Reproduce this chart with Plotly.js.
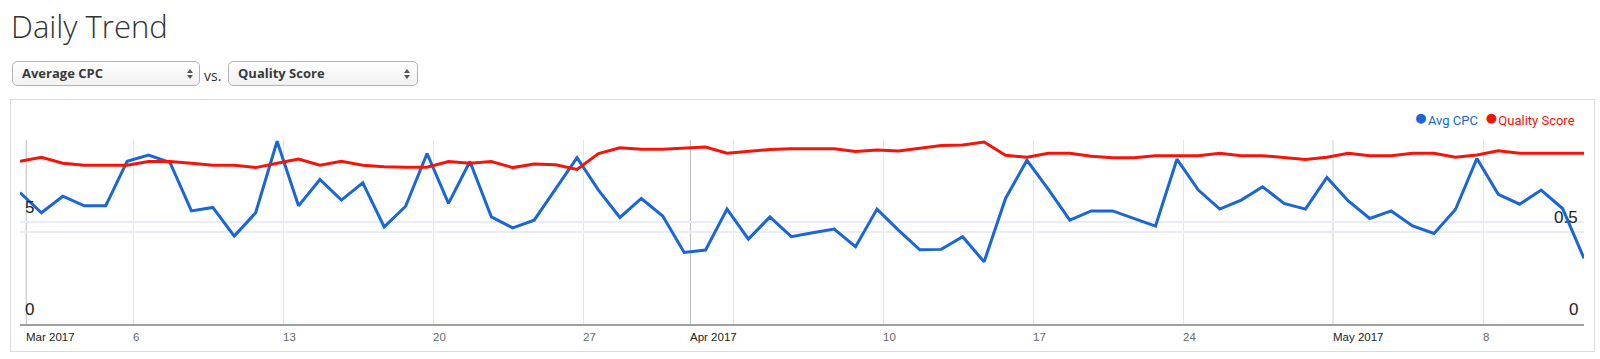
<!DOCTYPE html>
<html>
<head>
<meta charset="utf-8">
<script src="https://cdn.plot.ly/plotly-3.0.1.min.js"></script>
<style>
  html, body { margin:0; padding:0; background:#fff; }
  body { width:1600px; height:359px; overflow:hidden; position:relative; }
  #box { position:absolute; left:10px; top:99px; width:1583px; height:251px; border:1px solid #dcdcdc; box-sizing:content-box; }
  #chart { position:absolute; left:0; top:0; width:1600px; height:359px; }
  .sel { position:absolute; top:61px; height:23px; border:1px solid #b4b4b4; border-radius:5px;
         background:linear-gradient(#ffffff,#f1f1f1); font-family:"Open Sans",Arial,sans-serif; font-weight:700;
         font-size:13px; color:#3a3a3a; line-height:23px; box-sizing:content-box; z-index:2; }
  .sel .t { position:absolute; left:9px; top:0; }
  .sel .up, .sel .dn { position:absolute; width:0; height:0; border-left:3px solid transparent; border-right:3px solid transparent; }
  .sel .up { border-bottom:4px solid #555; top:7px; }
  .sel .dn { border-top:4px solid #555; top:13px; }
  #vs { position:absolute; left:204px; top:66px; font-family:"Open Sans",Arial,sans-serif; font-size:14px; color:#333; z-index:2; }
</style>
</head>
<body>
<div id="box"></div>
<div id="chart"></div>
<div class="sel" style="left:12px;width:186px"><span class="t">Average CPC</span><span class="up" style="left:174px"></span><span class="dn" style="left:174px"></span></div>
<div id="vs">vs.</div>
<div class="sel" style="left:228px;width:188px"><span class="t">Quality Score</span><span class="up" style="left:175px"></span><span class="dn" style="left:175px"></span></div>
<script>
// ---- data ----
const dates = [
 '2017-03-01','2017-03-02','2017-03-03','2017-03-04','2017-03-05','2017-03-06','2017-03-07','2017-03-08','2017-03-09','2017-03-10',
 '2017-03-11','2017-03-12','2017-03-13','2017-03-14','2017-03-15','2017-03-16','2017-03-17','2017-03-18','2017-03-19','2017-03-20',
 '2017-03-21','2017-03-22','2017-03-23','2017-03-24','2017-03-25','2017-03-26','2017-03-27','2017-03-28','2017-03-29','2017-03-30',
 '2017-03-31','2017-04-01','2017-04-02','2017-04-03','2017-04-04','2017-04-05','2017-04-06','2017-04-07','2017-04-08','2017-04-09',
 '2017-04-10','2017-04-11','2017-04-12','2017-04-13','2017-04-14','2017-04-15','2017-04-16','2017-04-17','2017-04-18','2017-04-19',
 '2017-04-20','2017-04-21','2017-04-22','2017-04-23','2017-04-24','2017-04-25','2017-04-26','2017-04-27','2017-04-28','2017-04-29',
 '2017-04-30','2017-05-01','2017-05-02','2017-05-03','2017-05-04','2017-05-05','2017-05-06','2017-05-07','2017-05-08','2017-05-09',
 '2017-05-10','2017-05-11','2017-05-12','2017-05-13'
];
const avgCpc = [
 6.43,5.44,6.25,5.78,5.78,7.96,8.26,7.90,5.53,5.70,
 4.30,5.44,8.94,5.78,7.07,6.06,6.90,4.75,5.76,8.34,
 5.90,7.95,5.24,4.70,5.08,6.63,8.14,6.55,5.21,6.14,
 5.28,3.50,3.62,5.62,4.15,5.24,4.27,4.46,4.64,3.78,
 5.62,4.59,3.63,3.65,4.27,3.04,6.14,8.01,6.58,5.08,
 5.53,5.53,5.16,4.79,8.06,6.55,5.62,6.06,6.71,5.90,
 5.62,7.17,6.02,5.16,5.53,4.80,4.43,5.60,8.09,6.34,
 5.86,6.55,5.65,3.21
];
const qualityScore = [
 0.885,0.906,0.874,0.863,0.863,0.863,0.883,0.883,0.874,0.863,
 0.863,0.850,0.874,0.896,0.863,0.884,0.863,0.854,0.852,0.852,
 0.883,0.874,0.883,0.850,0.870,0.865,0.840,0.926,0.958,0.950,
 0.950,0.958,0.962,0.928,0.937,0.948,0.952,0.952,0.952,0.937,
 0.945,0.940,0.956,0.970,0.973,0.989,0.917,0.906,0.928,0.928,
 0.912,0.904,0.904,0.915,0.915,0.915,0.928,0.915,0.915,0.906,
 0.894,0.906,0.928,0.915,0.915,0.928,0.928,0.906,0.919,0.941,
 0.928,0.928,0.928,0.928
];
const seriesNames = ['Avg CPC', 'Quality Score'];
const weekTicks = ['2017-03-06','2017-03-13','2017-03-20','2017-03-27','2017-04-03','2017-04-10','2017-04-17','2017-04-24','2017-05-01','2017-05-08'];
const monthTicks = ['2017-03-01','2017-04-01','2017-05-01'];
const labelDates = ['2017-03-01','2017-03-06','2017-03-13','2017-03-20','2017-03-27','2017-04-01','2017-04-10','2017-04-17','2017-04-24','2017-05-01','2017-05-08'];
const labelTexts = ['Mar 2017','6','13','20','27','Apr 2017','10','17','24','May 2017','8'];
const leftTicks = [0, 5];
const rightTicks = [0, 0.5];

// ---- styling ----
const BLUE = '#1a66d6';
const RED = '#f5140a';
const TZ = ' 07:00'; // ticks are drawn at local midnight (offset from the data points)

const traces = [
  { x: dates, y: avgCpc, name: seriesNames[0], type: 'scatter', mode: 'lines',
    line: { color: BLUE, width: 3 }, yaxis: 'y', hoverinfo: 'x+y' },
  { x: dates, y: qualityScore, name: seriesNames[1], type: 'scatter', mode: 'lines',
    line: { color: RED, width: 3 }, yaxis: 'y2', hoverinfo: 'x+y' }
];

const annotations = [];
labelDates.forEach((d, i) => {
  const isMonth = labelTexts[i].length > 3;
  annotations.push({
    x: d + TZ, xref: 'x', y: 0, yref: 'paper', yanchor: 'top', xanchor: 'left',
    text: labelTexts[i], showarrow: false, yshift: -5, xshift: -2,
    font: { family: 'Arial, Liberation Sans, sans-serif', size: 11.5, color: isMonth ? '#222' : '#6a6a6a' }
  });
});
leftTicks.forEach(v => annotations.push({
  x: 0, xref: 'paper', y: v, yref: 'y', xanchor: 'left', yanchor: 'bottom', xshift: 3, yshift: 3,
  text: String(v), showarrow: false, font: { family: 'Arial, Liberation Sans, sans-serif', size: 17, color: '#222' }
}));
rightTicks.forEach(v => annotations.push({
  x: 1, xref: 'paper', y: v, yref: 'y2', xanchor: 'right', yanchor: 'bottom', xshift: -4, yshift: 3,
  text: String(v), showarrow: false, font: { family: 'Arial, Liberation Sans, sans-serif', size: 17, color: '#222' }
}));
annotations.push({
  x: 1, xref: 'paper', y: 1, yref: 'paper', xanchor: 'right', yanchor: 'middle', yshift: 23, xshift: -7,
  showarrow: false,
  text: '<span style="color:' + BLUE + ';font-size:23px">●</span><span style="color:' + BLUE + '">' + seriesNames[0] + '</span>' +
        '  <span style="color:' + RED + ';font-size:23px">●</span><span style="color:' + RED + '">' + seriesNames[1] + '</span>',
  font: { family: 'Roboto, Arial, sans-serif', size: 13, color: '#333' }
});

const shapes = monthTicks.map(d => ({
  type: 'line', xref: 'x', yref: 'paper', x0: d + TZ, x1: d + TZ, y0: 0, y1: 1,
  line: { color: '#bdbdbd', width: 1 }, layer: 'below'
}));

const layout = {
  width: 1600, height: 359,
  margin: { l: 20, r: 16, t: 140, b: 35, pad: 0 },
  paper_bgcolor: 'rgba(0,0,0,0)', plot_bgcolor: 'rgba(0,0,0,0)',
  showlegend: false,
  title: { text: 'Daily Trend', x: 11/1600, xanchor: 'left', xref: 'container',
           y: 1 - 38/359, yanchor: 'bottom', yref: 'container', pad: { t: 0, b: 0, l: 0, r: 0 },
           font: { family: 'Open Sans, sans-serif', size: 31, weight: 300, color: '#333' } },
  xaxis: {
    type: 'date', range: [dates[0], dates[dates.length - 1]],
    tickvals: weekTicks.map(d => d + TZ), showticklabels: false, ticks: '',
    showgrid: true, gridcolor: '#e6e6e6', gridwidth: 1,
    showline: true, linecolor: '#a0a0a0', linewidth: 1.5, zeroline: false, fixedrange: true
  },
  yaxis: {
    range: [0, 9], tickvals: [5], showticklabels: false, ticks: '',
    showgrid: true, gridcolor: '#ebebf3', gridwidth: 1.5, zeroline: false, fixedrange: true
  },
  yaxis2: {
    range: [0, 1], overlaying: 'y', side: 'right', tickvals: [0.5], showticklabels: false, ticks: '',
    showgrid: true, gridcolor: '#ebebf3', gridwidth: 1.5, zeroline: false, fixedrange: true
  },
  annotations: annotations,
  shapes: shapes
};

Plotly.newPlot('chart', traces, layout, { displayModeBar: false, staticPlot: false });
</script>
</body>
</html>
